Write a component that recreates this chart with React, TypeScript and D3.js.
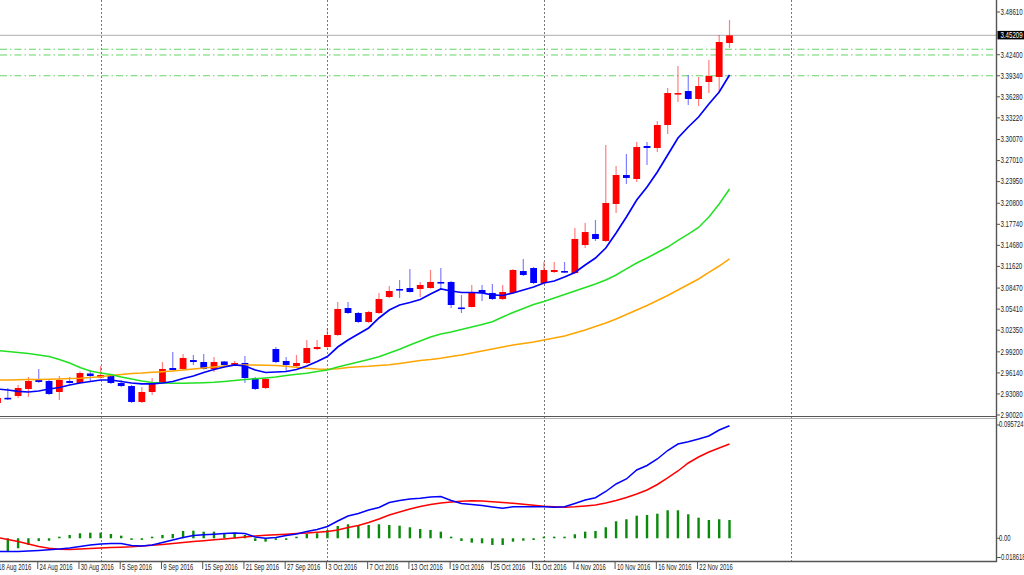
import React from 'react';
import * as d3 from 'd3';

// ---------- DATA ----------
const dates = [
  '2016-08-18','2016-08-19','2016-08-22','2016-08-23','2016-08-24','2016-08-25','2016-08-26','2016-08-29','2016-08-30','2016-08-31',
  '2016-09-01','2016-09-02','2016-09-05','2016-09-06','2016-09-07','2016-09-08','2016-09-09','2016-09-12','2016-09-13','2016-09-14',
  '2016-09-15','2016-09-16','2016-09-19','2016-09-20','2016-09-21','2016-09-22','2016-09-23','2016-09-26','2016-09-27','2016-09-28',
  '2016-09-29','2016-09-30','2016-10-03','2016-10-04','2016-10-05','2016-10-06','2016-10-07','2016-10-10','2016-10-11','2016-10-12',
  '2016-10-13','2016-10-14','2016-10-17','2016-10-18','2016-10-19','2016-10-20','2016-10-21','2016-10-24','2016-10-25','2016-10-26',
  '2016-10-27','2016-10-28','2016-10-31','2016-11-01','2016-11-02','2016-11-03','2016-11-04','2016-11-07','2016-11-08','2016-11-09',
  '2016-11-10','2016-11-11','2016-11-14','2016-11-15','2016-11-16','2016-11-17','2016-11-18','2016-11-21','2016-11-22','2016-11-23',
  '2016-11-24','2016-11-25'
];

const opens = [2.9176,2.9252,2.9278,2.9380,2.9511,2.9496,2.9336,2.9496,2.9467,2.9605,2.9547,2.9569,2.9467,2.9423,2.9191,2.9336,2.9467,2.9685,2.9671,2.9801,2.9772,2.9671,2.9780,2.9729,2.9758,2.9540,2.9394,2.9961,2.9787,2.9714,2.9758,2.9961,2.9990,3.0165,3.0557,3.0485,3.0354,3.0485,3.0717,3.0834,3.0848,3.0834,3.0848,3.0936,3.0936,3.0565,3.0572,3.0819,3.0776,3.0688,3.0776,3.1095,3.1139,3.0921,3.1081,3.1095,3.1066,3.1473,3.1633,3.1532,3.2070,3.2491,3.2433,3.2913,3.2884,3.3218,3.3669,3.3712,3.3596,3.3843,3.3916,3.4410];
const highs = [2.9278,2.9394,2.9438,2.9554,2.9671,2.9511,2.9569,2.9554,2.9634,2.9656,2.9714,2.9583,2.9511,2.9438,2.9409,2.9540,2.9772,2.9918,2.9889,2.9874,2.9889,2.9845,2.9787,2.9787,2.9860,2.9554,2.9540,2.9990,2.9845,2.9874,3.0092,3.0092,3.0267,3.0645,3.0645,3.0499,3.0514,3.0776,3.0877,3.0965,3.1125,3.0936,3.1110,3.1139,3.0950,3.0747,3.0892,3.0892,3.0906,3.0892,3.1125,3.1270,3.1154,3.1226,3.1226,3.1226,3.1721,3.1793,3.1837,3.2927,3.2622,3.2797,3.2971,3.2971,3.3276,3.3756,3.4076,3.3945,3.3916,3.4163,3.4527,3.4745];
const lows = [2.9147,2.9220,2.9249,2.9264,2.9467,2.9293,2.9220,2.9460,2.9460,2.9482,2.9533,2.9453,2.9409,2.9176,2.9176,2.9293,2.9453,2.9649,2.9656,2.9729,2.9663,2.9627,2.9714,2.9714,2.9467,2.9365,2.9380,2.9758,2.9642,2.9700,2.9743,2.9947,2.9983,3.0150,3.0470,3.0339,3.0339,3.0470,3.0703,3.0703,3.0783,3.0717,3.0841,3.0834,3.0557,3.0485,3.0565,3.0659,3.0674,3.0674,3.0761,3.1023,3.0906,3.0906,3.1066,3.1066,3.1052,3.1430,3.1532,3.1517,3.1939,3.2360,3.2389,3.2637,3.2826,3.3087,3.3553,3.3509,3.3494,3.3683,3.3683,3.4338];
const closes = [2.9249,2.9240,2.9394,2.9496,2.9482,2.9307,2.9511,2.9467,2.9612,2.9569,2.9583,2.9467,2.9423,2.9191,2.9336,2.9467,2.9671,2.9656,2.9831,2.9772,2.9671,2.9772,2.9729,2.9758,2.9540,2.9380,2.9525,2.9772,2.9729,2.9758,2.9976,2.9990,3.0165,3.0543,3.0485,3.0354,3.0499,3.0688,3.0805,3.0812,3.0790,3.0892,3.0936,3.0921,3.0601,3.0550,3.0776,3.0776,3.0688,3.0790,3.1110,3.1037,3.0921,3.1110,3.1110,3.1074,3.1561,3.1662,3.1561,3.2084,3.2491,3.2448,3.2898,3.2884,3.3218,3.3683,3.3683,3.3596,3.3785,3.3931,3.4425,3.4521];

const maFast = [2.9380,2.9365,2.9344,2.9336,2.9351,2.9380,2.9402,2.9438,2.9467,2.9489,2.9511,2.9511,2.9489,2.9467,2.9453,2.9453,2.9467,2.9489,2.9533,2.9569,2.9620,2.9663,2.9700,2.9729,2.9714,2.9656,2.9620,2.9627,2.9634,2.9663,2.9714,2.9780,2.9852,2.9990,3.0092,3.0179,3.0267,3.0412,3.0528,3.0601,3.0637,3.0681,3.0761,3.0834,3.0805,3.0783,3.0783,3.0776,3.0747,3.0739,3.0776,3.0819,3.0863,3.0921,3.0950,3.1008,3.1074,3.1183,3.1284,3.1430,3.1648,3.1881,3.2128,3.2317,3.2535,3.2782,3.3029,3.3189,3.3334,3.3523,3.3698,3.3945];
const maMid = [2.9940,2.9925,2.9911,2.9896,2.9874,2.9852,2.9809,2.9758,2.9692,2.9642,2.9612,2.9591,2.9554,2.9525,2.9496,2.9474,2.9467,2.9463,2.9463,2.9467,2.9471,2.9477,2.9489,2.9503,2.9518,2.9528,2.9540,2.9554,2.9576,2.9594,2.9610,2.9634,2.9656,2.9700,2.9736,2.9772,2.9809,2.9849,2.9903,2.9958,3.0020,3.0078,3.0136,3.0179,3.0209,3.0245,3.0281,3.0318,3.0358,3.0427,3.0492,3.0550,3.0608,3.0652,3.0703,3.0754,3.0805,3.0856,3.0906,3.0965,3.1037,3.1125,3.1212,3.1284,3.1364,3.1444,3.1539,3.1633,3.1728,3.1881,3.2070,3.2288];
const maSlow = [2.9511,2.9511,2.9514,2.9517,2.9519,2.9522,2.9525,2.9531,2.9537,2.9547,2.9559,2.9576,2.9591,2.9605,2.9612,2.9623,2.9631,2.9642,2.9656,2.9671,2.9685,2.9700,2.9714,2.9724,2.9729,2.9729,2.9726,2.9722,2.9710,2.9695,2.9681,2.9671,2.9666,2.9675,2.9692,2.9703,2.9710,2.9722,2.9732,2.9751,2.9772,2.9794,2.9809,2.9828,2.9852,2.9874,2.9903,2.9932,2.9961,2.9990,3.0020,3.0041,3.0063,3.0092,3.0121,3.0150,3.0194,3.0238,3.0289,3.0339,3.0398,3.0463,3.0528,3.0594,3.0667,3.0739,3.0819,3.0899,3.0979,3.1074,3.1168,3.1270];

const macdMain = [-0.01115,-0.01115,-0.01115,-0.01073,-0.01031,-0.00972,-0.00904,-0.00820,-0.00693,-0.00566,-0.00482,-0.00439,-0.00439,-0.00608,-0.00651,-0.00566,-0.00355,-0.00144,0.00068,0.00237,0.00296,0.00346,0.00406,0.00448,0.00406,0.00110,0.00000,0.00068,0.00237,0.00363,0.00575,0.00743,0.00997,0.01462,0.01884,0.02095,0.02391,0.02602,0.03025,0.03194,0.03320,0.03388,0.03489,0.03532,0.03194,0.02940,0.02856,0.02771,0.02644,0.02535,0.02670,0.02670,0.02670,0.02661,0.02619,0.02661,0.02940,0.03236,0.03430,0.03954,0.04588,0.05010,0.05770,0.06151,0.06700,0.07418,0.07967,0.08161,0.08390,0.08643,0.09150,0.09513];
const macdSignal = [0.00068,-0.00101,-0.00270,-0.00482,-0.00693,-0.00845,-0.00929,-0.00946,-0.00904,-0.00862,-0.00820,-0.00786,-0.00752,-0.00718,-0.00651,-0.00591,-0.00524,-0.00439,-0.00355,-0.00270,-0.00203,-0.00127,-0.00059,0.00025,0.00110,0.00194,0.00253,0.00296,0.00346,0.00406,0.00448,0.00507,0.00575,0.00701,0.00912,0.01081,0.01335,0.01631,0.01969,0.02222,0.02475,0.02687,0.02856,0.02982,0.03067,0.03134,0.03168,0.03151,0.03084,0.03025,0.02957,0.02873,0.02788,0.02712,0.02661,0.02628,0.02661,0.02729,0.02813,0.02982,0.03194,0.03447,0.03743,0.04081,0.04545,0.05095,0.05686,0.06362,0.06869,0.07291,0.07629,0.07967];
const macdHist = [-0.01014,-0.01132,-0.00845,-0.00566,-0.00228,-0.00203,0.00025,0.00279,0.00422,0.00473,0.00473,0.00363,0.00220,-0.00042,-0.00127,0.00042,0.00279,0.00363,0.00617,0.00642,0.00558,0.00558,0.00422,0.00473,0.00279,-0.00228,-0.00287,-0.00068,-0.00042,0.00068,0.00363,0.00422,0.00701,0.01039,0.01183,0.01124,0.01124,0.01183,0.01124,0.01065,0.00929,0.00786,0.00701,0.00558,0.00135,-0.00228,-0.00372,-0.00422,-0.00566,-0.00566,-0.00287,-0.00203,-0.00144,0.00025,0.00068,0.00068,0.00338,0.00558,0.00617,0.00929,0.01436,0.01605,0.01909,0.01969,0.02078,0.02366,0.02366,0.02028,0.01740,0.01546,0.01605,0.01546];

const priceTicks = ['3.48610','3.42400','3.39340','3.36280','3.33220','3.30070','3.27010','3.23950','3.20800','3.17740','3.14680','3.11620','3.08470','3.05410','3.02350','2.99200','2.96140','2.93080','2.90020'];
const currentPrice = '3.45209';
const levelLines = [3.4319, 3.4236, 3.3934];
const macdTicks = ['0.095724', '0.00', '-0.018618'];
const monthStarts = ['2016-09-01', '2016-10-03', '2016-11-01', '2016-12-01'];
const labelEvery = 4;

// ---------- LAYOUT ----------
const W = 1024, H = 575;
const plotR = 996;
const mainBottom = 416;
const subTop = 419, subBottom = 561;

const x = d3.scaleLinear().domain([0, dates.length - 1]).range([-2.5, 729.5]);
const y = d3.scaleLinear().domain([2.89727, 3.50355]).range([417, 0]);
const ym = d3.scaleLinear().domain([-0.018618, 0.095724]).range([560.3, 425]);

const parse = d3.timeParse('%Y-%m-%d');
const fmt = d3.timeFormat('%-d %b %Y');
const dayIndex = (s: string) => {
  const k = dates.indexOf(s);
  if (k >= 0) return k;
  const last = parse(dates[dates.length - 1])!;
  return dates.length - 1 + d3.timeDay.count(last, parse(s)!);
};

const FONT = "'Liberation Sans', Arial, sans-serif";

function Label({ px, py, text, fill = '#222', sx = 0.75 }: any) {
  return (
    <text transform={`translate(${px},${py}) scale(${sx},1)`} fontFamily={FONT} fontSize={8.2} fill={fill} dominantBaseline="central">
      {text}
    </text>
  );
}

export default function App() {
  const line = (s: number[], sc: any) =>
    d3.line<number>().x((_, i) => x(i)).y((d) => sc(d)).curve(d3.curveLinear)(s) || '';

  return (
    <svg width={W} height={H} style={{ position: 'absolute', left: 0, top: 0, background: '#fff' }}>
      <defs>
        <clipPath id="mainClip"><rect x={0} y={0} width={plotR} height={mainBottom} /></clipPath>
        <clipPath id="subClip"><rect x={0} y={subTop} width={plotR} height={subBottom - subTop} /></clipPath>
      </defs>
      <rect x={0} y={0} width={W} height={H} fill="#fff" />

      {/* month separators */}
      {monthStarts.map((m) => {
        const xx = Math.round(x(dayIndex(m))) + 0.5;
        return <line key={m} x1={xx} x2={xx} y1={0} y2={subBottom} stroke="#777" strokeWidth={1} strokeDasharray="2,2" />;
      })}

      <g clipPath="url(#mainClip)">
        {/* price line & level lines */}
        <line x1={0} x2={plotR} y1={y(+currentPrice)} y2={y(+currentPrice)} stroke="#bdbdbd" strokeWidth={1.3} />
        {levelLines.map((v) => (
          <line key={v} x1={0} x2={plotR} y1={y(v)} y2={y(v)} stroke="#66d466" strokeWidth={1} strokeDasharray="7,3,1.5,3" />
        ))}

        {/* candles */}
        {dates.map((d, i) => {
          const o = opens[i], c = closes[i], h = highs[i], l = lows[i];
          const bull = c >= o;
          const col = bull ? '#ff0000' : '#0000ff';
          const cx = x(i);
          const top = y(Math.max(o, c));
          const bot = y(Math.min(o, c));
          return (
            <g key={d}>
              <line x1={cx} x2={cx} y1={y(h)} y2={y(l)} stroke={col} strokeOpacity={0.5} strokeWidth={1.2} />
              <rect x={cx - 3.4} y={top} width={6.8} height={Math.max(1.6, bot - top)} fill={col} />
            </g>
          );
        })}

        {/* moving averages */}
        <path d={line(maSlow, y)} fill="none" stroke="#ffa500" strokeWidth={1.5} />
        <path d={line(maMid, y)} fill="none" stroke="#22e022" strokeWidth={1.5} />
        <path d={line(maFast, y)} fill="none" stroke="#0000ff" strokeWidth={1.7} />
      </g>

      {/* MACD window */}
      <g clipPath="url(#subClip)">
        {macdHist.map((v, i) => {
          const y0 = ym(0), y1 = ym(v);
          const top = Math.min(y0, y1);
          const hgt = Math.max(1.6, Math.abs(y1 - y0));
          return <rect key={i} x={x(i) - 1.2} y={v >= 0 ? y0 - hgt : y0} width={2.4} height={hgt} fill="#0a8a0a" />;
        })}
        <path d={line(macdSignal, ym)} fill="none" stroke="#ff0000" strokeWidth={1.5} />
        <path d={line(macdMain, ym)} fill="none" stroke="#0000ff" strokeWidth={1.5} />
      </g>

      {/* frame */}
      <line x1={0} x2={plotR} y1={416.5} y2={416.5} stroke="#555" strokeWidth={1.2} />
      <line x1={0} x2={plotR} y1={418.5} y2={418.5} stroke="#b0b0b0" strokeWidth={1} />
      <line x1={0} x2={plotR + 1} y1={561.5} y2={561.5} stroke="#555" strokeWidth={1.3} />
      <line x1={plotR + 0.5} x2={plotR + 0.5} y1={0} y2={562} stroke="#555" strokeWidth={1.4} />

      {/* price axis */}
      {priceTicks.map((t) => {
        const yy = y(+t);
        return (
          <g key={t}>
            <line x1={plotR + 1} x2={plotR + 4} y1={yy} y2={yy} stroke="#555" strokeWidth={1} />
            <Label px={1000.5} py={yy} text={t} />
          </g>
        );
      })}
      <rect x={997.5} y={y(+currentPrice) - 4.5} width={26.5} height={8.5} fill="#000" />
      <Label px={1000.5} py={y(+currentPrice) - 0.3} text={currentPrice} fill="#fff" />

      {/* MACD axis */}
      {macdTicks.map((t) => {
        const yy = Math.min(557.5, ym(+t));
        return (
          <g key={t}>
            <line x1={plotR + 1} x2={plotR + 4} y1={ym(+t) > 557.5 ? yy : ym(+t)} y2={yy} stroke="#555" strokeWidth={1} />
            <Label px={999} py={yy} text={t} sx={0.72} />
          </g>
        );
      })}

      {/* time axis */}
      {dates.map((d, i) => {
        if (i % labelEvery !== 0) return null;
        const xx = x(i);
        return (
          <g key={'t' + d}>
            <line x1={xx - 1} x2={xx - 1} y1={562} y2={569} stroke="#555" strokeWidth={1} />
            <Label px={xx + 0.8} py={567.5} text={fmt(parse(d)!)} sx={0.72} />
          </g>
        );
      })}
    </svg>
  );
}
